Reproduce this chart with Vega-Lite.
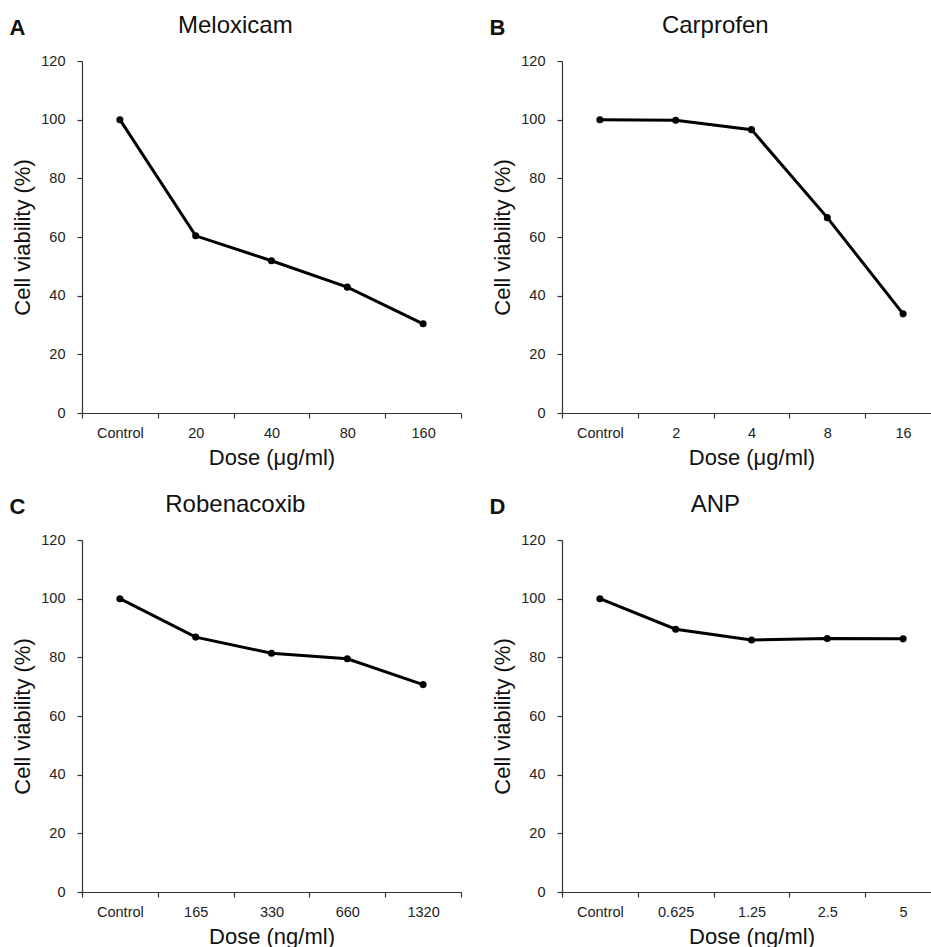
{
  "$schema": "https://vega.github.io/schema/vega-lite/v6.json",
  "background": "white",
  "padding": {"left": 9, "top": 14, "right": 0, "bottom": 0},
  "datasets": {
    "meloxicam": [
      {"dose": "Control", "viability": 100},
      {"dose": "20", "viability": 60.4},
      {"dose": "40", "viability": 51.9},
      {"dose": "80", "viability": 42.9},
      {"dose": "160", "viability": 30.4}
    ],
    "carprofen": [
      {"dose": "Control", "viability": 100},
      {"dose": "2", "viability": 99.8},
      {"dose": "4", "viability": 96.6},
      {"dose": "8", "viability": 66.6},
      {"dose": "16", "viability": 33.8}
    ],
    "robenacoxib": [
      {"dose": "Control", "viability": 100},
      {"dose": "165", "viability": 86.9},
      {"dose": "330", "viability": 81.4},
      {"dose": "660", "viability": 79.5},
      {"dose": "1320", "viability": 70.7}
    ],
    "anp": [
      {"dose": "Control", "viability": 100},
      {"dose": "0.625", "viability": 89.6},
      {"dose": "1.25", "viability": 85.9},
      {"dose": "2.5", "viability": 86.4},
      {"dose": "5", "viability": 86.3}
    ]
  },
  "config": {
    "font": "Liberation Sans",
    "view": {"stroke": null},
    "axis": {
      "grid": false,
      "domainColor": "#333333",
      "domainWidth": 1.2,
      "tickColor": "#333333",
      "tickWidth": 1.2,
      "tickSize": 5,
      "labelColor": "#222222",
      "labelFont": "Liberation Sans",
      "labelFontSize": 14.5,
      "titleColor": "#111111",
      "titleFont": "Liberation Sans",
      "titleFontSize": 22,
      "titleFontWeight": "normal"
    },
    "title": {"font": "Liberation Sans", "color": "#111111", "fontSize": 24, "fontWeight": "normal", "anchor": "middle", "frame": "bounds", "baseline": "alphabetic", "offset": -22}
  },
  "bounds": "flush",
  "columns": 2,
  "spacing": {"row": 127, "column": 101},
  "concat": [
    {
      "title": "Meloxicam",
      "width": 379, "height": 352,
      "data": {"name": "meloxicam"},
      "resolve": {"axis": {"x": "independent"}},
      "encoding": {
        "y": {"field": "viability", "type": "quantitative", "title": "Cell viability (%)",
          "scale": {"domain": [0, 120], "nice": false},
          "axis": {"values": [0, 20, 40, 60, 80, 100, 120], "labelPadding": 12, "titlePadding": 6}}
      },
      "layer": [
        {
          "mark": {"type": "line", "color": "black", "strokeWidth": 3},
          "encoding": {
            "x": {"field": "dose", "type": "ordinal", "sort": null, "title": "Dose (μg/ml)",
              "scale": {"type": "band", "paddingInner": 0, "paddingOuter": 0},
              "axis": {"tickBand": "extent", "labelAngle": 0, "labelPadding": 8, "titlePadding": 8}}
          }
        },
        {
          "mark": {"type": "point", "filled": true, "size": 50, "color": "black", "opacity": 1},
          "encoding": {
            "x": {"field": "dose", "type": "ordinal", "sort": null, "title": "A",
              "axis": {"orient": "top", "domain": false, "ticks": false, "labels": false, "titleFontWeight": "bold", "titleFontSize": 22, "titleAnchor": "start", "titleAlign": "left", "titleBaseline": "alphabetic", "titleX": -73, "titleY": -27}}
          }
        }
      ]
    },
    {
      "title": "Carprofen",
      "width": 379, "height": 352,
      "data": {"name": "carprofen"},
      "resolve": {"axis": {"x": "independent"}},
      "encoding": {
        "y": {"field": "viability", "type": "quantitative", "title": "Cell viability (%)",
          "scale": {"domain": [0, 120], "nice": false},
          "axis": {"values": [0, 20, 40, 60, 80, 100, 120], "labelPadding": 12, "titlePadding": 6}}
      },
      "layer": [
        {
          "mark": {"type": "line", "color": "black", "strokeWidth": 3},
          "encoding": {
            "x": {"field": "dose", "type": "ordinal", "sort": null, "title": "Dose (μg/ml)",
              "scale": {"type": "band", "paddingInner": 0, "paddingOuter": 0},
              "axis": {"tickBand": "extent", "labelAngle": 0, "labelPadding": 8, "titlePadding": 8}}
          }
        },
        {
          "mark": {"type": "point", "filled": true, "size": 50, "color": "black", "opacity": 1},
          "encoding": {
            "x": {"field": "dose", "type": "ordinal", "sort": null, "title": "B",
              "axis": {"orient": "top", "domain": false, "ticks": false, "labels": false, "titleFontWeight": "bold", "titleFontSize": 22, "titleAnchor": "start", "titleAlign": "left", "titleBaseline": "alphabetic", "titleX": -73, "titleY": -27}}
          }
        }
      ]
    },
    {
      "title": "Robenacoxib",
      "width": 379, "height": 352,
      "data": {"name": "robenacoxib"},
      "resolve": {"axis": {"x": "independent"}},
      "encoding": {
        "y": {"field": "viability", "type": "quantitative", "title": "Cell viability (%)",
          "scale": {"domain": [0, 120], "nice": false},
          "axis": {"values": [0, 20, 40, 60, 80, 100, 120], "labelPadding": 12, "titlePadding": 6}}
      },
      "layer": [
        {
          "mark": {"type": "line", "color": "black", "strokeWidth": 3},
          "encoding": {
            "x": {"field": "dose", "type": "ordinal", "sort": null, "title": "Dose (ng/ml)",
              "scale": {"type": "band", "paddingInner": 0, "paddingOuter": 0},
              "axis": {"tickBand": "extent", "labelAngle": 0, "labelPadding": 8, "titlePadding": 8}}
          }
        },
        {
          "mark": {"type": "point", "filled": true, "size": 50, "color": "black", "opacity": 1},
          "encoding": {
            "x": {"field": "dose", "type": "ordinal", "sort": null, "title": "C",
              "axis": {"orient": "top", "domain": false, "ticks": false, "labels": false, "titleFontWeight": "bold", "titleFontSize": 22, "titleAnchor": "start", "titleAlign": "left", "titleBaseline": "alphabetic", "titleX": -73, "titleY": -27}}
          }
        }
      ]
    },
    {
      "title": "ANP",
      "width": 379, "height": 352,
      "data": {"name": "anp"},
      "resolve": {"axis": {"x": "independent"}},
      "encoding": {
        "y": {"field": "viability", "type": "quantitative", "title": "Cell viability (%)",
          "scale": {"domain": [0, 120], "nice": false},
          "axis": {"values": [0, 20, 40, 60, 80, 100, 120], "labelPadding": 12, "titlePadding": 6}}
      },
      "layer": [
        {
          "mark": {"type": "line", "color": "black", "strokeWidth": 3},
          "encoding": {
            "x": {"field": "dose", "type": "ordinal", "sort": null, "title": "Dose (ng/ml)",
              "scale": {"type": "band", "paddingInner": 0, "paddingOuter": 0},
              "axis": {"tickBand": "extent", "labelAngle": 0, "labelPadding": 8, "titlePadding": 8}}
          }
        },
        {
          "mark": {"type": "point", "filled": true, "size": 50, "color": "black", "opacity": 1},
          "encoding": {
            "x": {"field": "dose", "type": "ordinal", "sort": null, "title": "D",
              "axis": {"orient": "top", "domain": false, "ticks": false, "labels": false, "titleFontWeight": "bold", "titleFontSize": 22, "titleAnchor": "start", "titleAlign": "left", "titleBaseline": "alphabetic", "titleX": -73, "titleY": -27}}
          }
        }
      ]
    }
  ]
}
